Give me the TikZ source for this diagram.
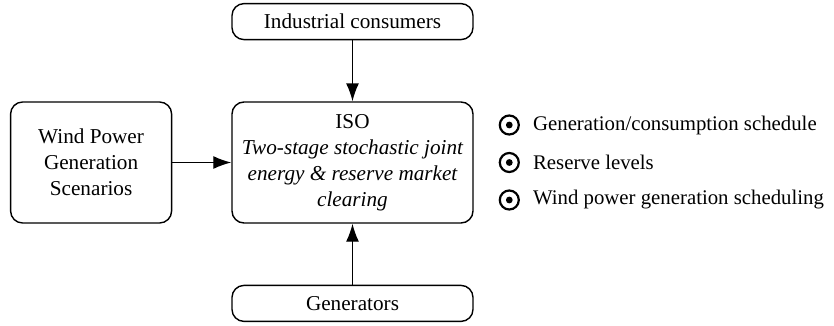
\documentclass[tikz,border=0pt]{standalone}
\usepackage{fontspec}
\setmainfont{Liberation Serif}
\usepackage{tikz}
\usetikzlibrary{positioning,arrows.meta}
\tikzset{>={Latex[length=18pt,width=13pt]}}
\tikzset{
  block/.style={draw, line width=1.4pt, rounded corners=12pt, align=center,
    inner sep=2pt, font=\fontsize{21.2}{26}\selectfont},
  dotmark/.style={circle, draw, line width=2.2pt, minimum size=19pt, inner sep=0pt,
    path picture={\fill (path picture bounding box.center) circle (3.4pt);}},
  outtext/.style={anchor=west, inner sep=0pt, font=\fontsize{20.8}{26}\selectfont}
}
\begin{document}
\begin{tikzpicture}

  \useasboundingbox (-352.5pt,-162.5pt) rectangle (481.5pt,162.5pt);

  % Nodes
  \node[block, minimum width=241pt, minimum height=121pt] (iso)
    {ISO\\ \itshape Two-stage stochastic joint\\ \itshape energy \& reserve market\\ \itshape clearing};
  \node[block, minimum width=161pt, minimum height=121pt, left=59pt of iso] (wind)
    {Wind Power\\ Generation\\ Scenarios};
  \node[block, minimum width=241pt, minimum height=36pt, above=61pt of iso] (cons)
    {Industrial consumers};
  \node[block, minimum width=241pt, minimum height=36pt, below=61pt of iso] (gen)
    {Generators};

  % Outputs
  \node[dotmark, right=25pt of iso.east, yshift=37.5pt] (b1) {};
  \node[dotmark, right=25pt of iso.east] (b2) {};
  \node[dotmark, right=25pt of iso.east, yshift=-37.5pt] (b3) {};
  \node[outtext, right=13pt of b1.east] (o1) {Generation/consumption schedule};
  \node[outtext, right=13pt of b2.east] (o2) {Reserve levels};
  \node[outtext, right=13pt of b3.east] (o3) {Wind power generation scheduling};

  % Edges
  \draw[->, line width=1.4pt] (cons) -- (iso);
  \draw[->, line width=1.4pt] (gen) -- (iso);
  \draw[->, line width=1.4pt] (wind) -- (iso);

\end{tikzpicture}
\end{document}
